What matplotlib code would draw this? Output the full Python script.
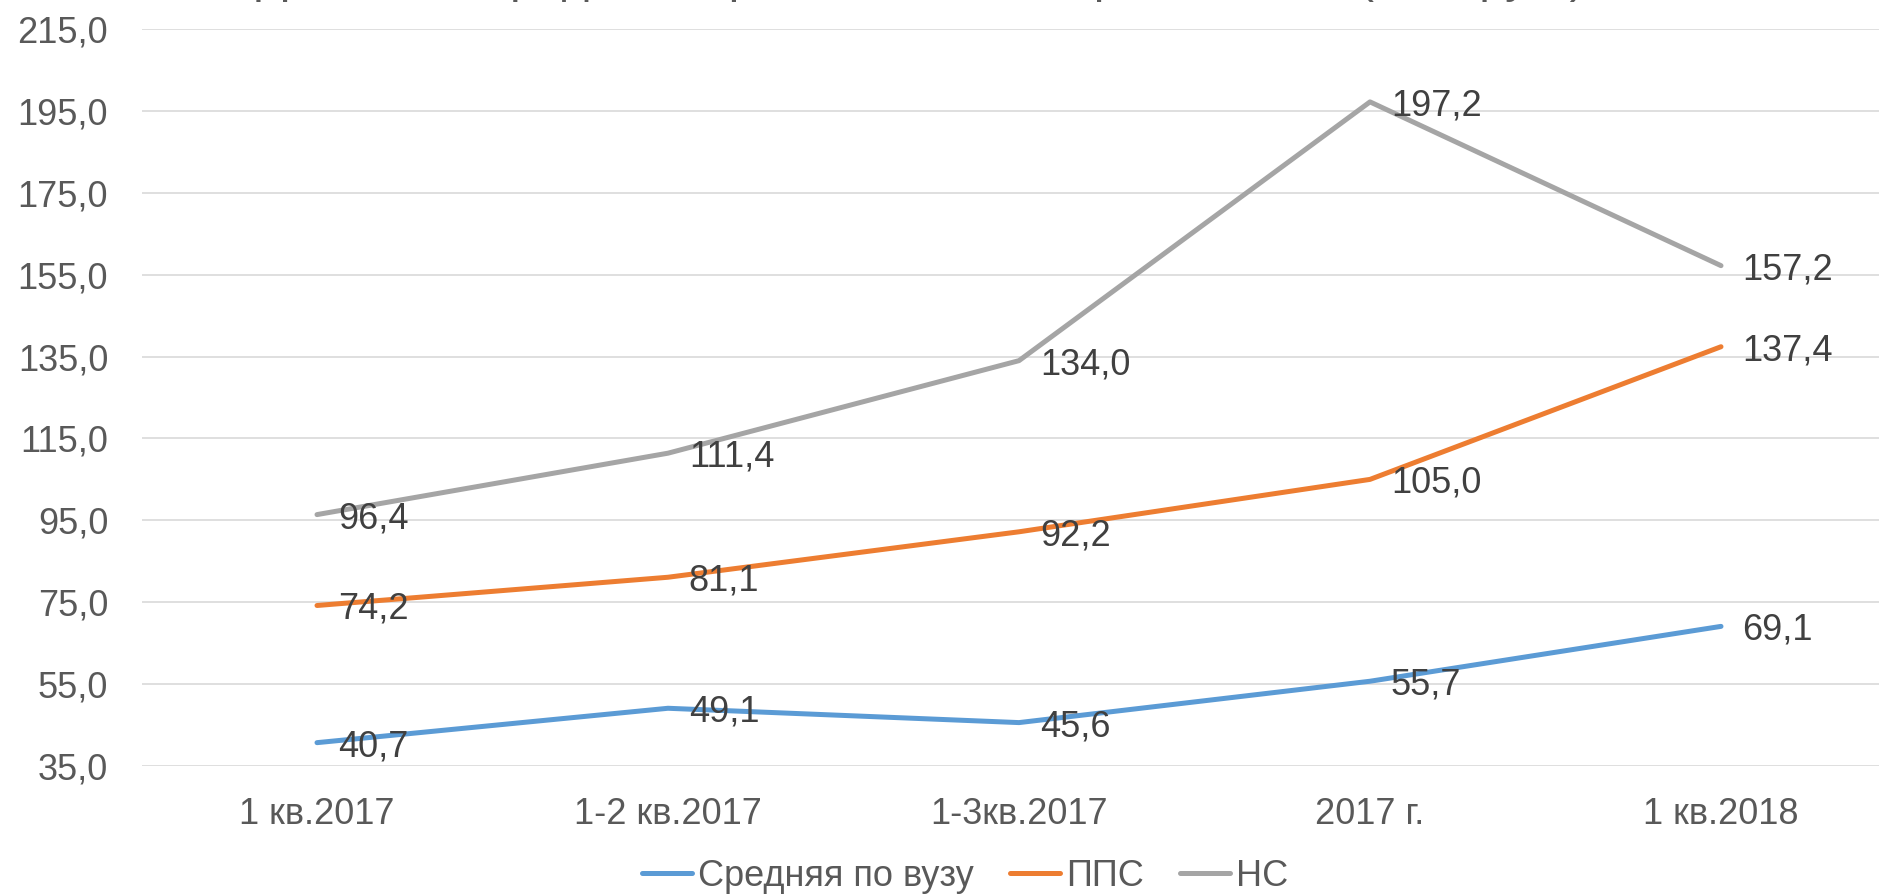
import matplotlib
matplotlib.use("Agg")
import matplotlib.pyplot as plt
from matplotlib.ticker import FuncFormatter

plt.rcParams['font.family'] = ['Liberation Sans', 'DejaVu Sans']

# Data
periods = ['1 кв.2017', '1-2 кв.2017', '1-3кв.2017', '2017 г.', '1 кв.2018']
avg_uni = [40.7, 49.1, 45.6, 55.7, 69.1]
pps = [74.2, 81.1, 92.2, 105.0, 137.4]
ns = [96.4, 111.4, 134.0, 197.2, 157.2]
series_names = ['Средняя по вузу', 'ППС', 'НС']

COL_BLUE = '#5B9BD5'
COL_ORANGE = '#ED7D31'
COL_GRAY = '#A5A5A5'
TICK_COL = '#595959'
LABEL_COL = '#404040'

W, H = 1879, 896
fig = plt.figure(figsize=(W / 100, H / 100), dpi=100)
# plot area runs past the right edge, like the cropped original
left, right, top, bottom = 141.5, 1896.5, 29, 766
ax = fig.add_axes([left / W, 1 - bottom / H, (right - left) / W, (bottom - top) / H])

x = list(range(len(periods)))
for vals, col, name in [(avg_uni, COL_BLUE, series_names[0]),
                        (pps, COL_ORANGE, series_names[1]),
                        (ns, COL_GRAY, series_names[2])]:
    ax.plot(x, vals, color=col, lw=3.6, label=name, solid_capstyle='round',
            solid_joinstyle='round', clip_on=False)
    for xi, v in zip(x, vals):
        ax.annotate(f'{v:.1f}'.replace('.', ','), (xi, v), xytext=(15, 0),
                    textcoords='offset points', ha='left', va='center_baseline',
                    fontsize=26, color=LABEL_COL, annotation_clip=False)

ax.set_xlim(-0.5, len(periods) - 0.5)
ax.set_ylim(35, 215)
ax.set_yticks(range(35, 216, 20))
ax.yaxis.set_major_formatter(FuncFormatter(lambda v, p: f'{v:.1f}'.replace('.', ',')))
ax.set_xticks(x)
ax.set_xticklabels(periods)
ax.tick_params(axis='both', length=0, labelsize=26, labelcolor=TICK_COL)
ax.tick_params(axis='x', pad=22)
ax.tick_params(axis='y', pad=24)
ax.grid(axis='y', color='#D9D9D9', lw=1.2)
ax.set_axisbelow(True)
for s in ax.spines.values():
    s.set_visible(False)

leg = fig.legend(loc='center', bbox_to_anchor=(965 / W, 1 - 876 / H), ncol=3,
                 frameon=False, fontsize=26, handlelength=1.4, handletextpad=0.15,
                 columnspacing=1.0)
for t in leg.get_texts():
    t.set_color(TICK_COL)

# title is cut off at the top in the original; only descenders show
fig.text(0.49, 1 + 8 / H, 'Динамика средней заработной платы работников (тыс. руб.)',
         ha='center', va='baseline', fontsize=34, color=TICK_COL)

fig.savefig('out.png', dpi=100)
